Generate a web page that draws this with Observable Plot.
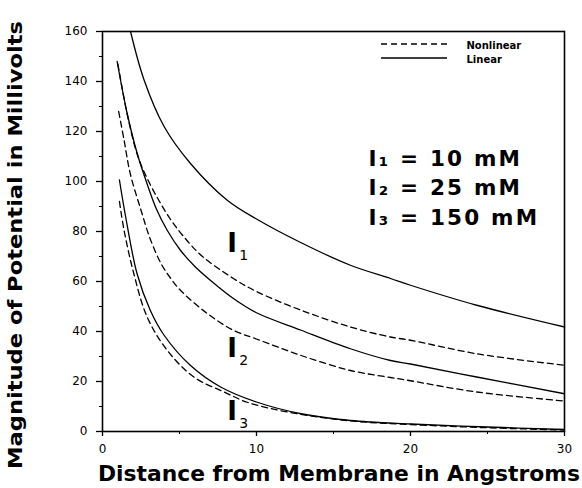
<!DOCTYPE html>
<html><head><meta charset="utf-8">
<script src="https://cdn.jsdelivr.net/npm/d3@7"></script>
<script src="https://cdn.jsdelivr.net/npm/@observablehq/plot@0.6"></script>
<style>body{margin:0;background:#fff} svg{display:block}</style>
</head><body><div id="chart"></div>
<script>
// Linear solution, I1 = 10 mM
const xLin1 = [1.82, 2.7, 4.0, 5.7, 8.1, 10, 12.9, 16.1, 18.7, 20, 24.3, 30];
const yLin1 = [160, 140.6, 122, 107.3, 92.5, 85, 75.5, 66.5, 61.2, 58.5, 50.5, 41.8];
// Nonlinear solution, I1
const xNon1 = [1.0, 1.6, 2.3, 3.0, 3.7, 4.4, 5.2, 6.4, 8.5, 10, 12.9, 16.1, 18.7, 20, 24.3, 30];
const yNon1 = [147, 127, 110, 100, 92, 85, 78.5, 70.5, 61.2, 56, 48.5, 41.8, 37.8, 36.5, 31.1, 26.5];
// Linear solution, I2 = 25 mM
const xLin2 = [0.95, 1.6, 2.25, 2.9, 3.5, 4.2, 5.06, 6, 7, 8.5, 10, 12.9, 16.1, 18.7, 20, 24.3, 30];
const yLin2 = [148, 127.3, 111.3, 99, 89, 80.5, 72.5, 66, 60.5, 53.2, 47.5, 40.5, 33.1, 28.4, 27, 21.8, 15.1];
// Nonlinear solution, I2
const xNon2 = [1.05, 1.4, 1.8, 2.5, 3.1, 3.8, 4.4, 5.06, 6.8, 8.5, 10, 12.9, 16.1, 18.7, 20, 24.3, 30];
const yNon2 = [128, 116.6, 103.2, 88.5, 77, 67.2, 61.5, 56.5, 47.2, 40.5, 37, 30.4, 24.4, 21.6, 20.3, 15.8, 12.2];
// Linear solution, I3 = 150 mM
const xLin3 = [1.1, 1.5, 2.25, 3.1, 4, 5.7, 7.7, 10, 12.9, 16.1, 20, 25, 30];
const yLin3 = [100.6, 86, 63, 48.5, 38.5, 26.5, 17.7, 11.8, 7.1, 4.4, 3, 1.8, 0.8];
// Nonlinear solution, I3
const xNon3 = [1.1, 1.4, 2.03, 2.9, 4.2, 5.93, 7.9, 9.4, 12, 16, 20, 25, 30];
const yNon3 = [92, 80.5, 63.2, 45.8, 32.5, 21.8, 15.8, 11.7, 7.8, 4.3, 2.8, 1.5, 0.6];

const xTicksMajor = [0, 10, 20, 30];
const xTicksMinor = [5, 15, 25];
const yTicksMajor = [0, 20, 40, 60, 80, 100, 120, 140, 160];
const yTicksMinor = [10, 30, 50, 70, 90, 110, 130, 150];

const curveLabelText = ["I", "I", "I"];
const curveLabelSub = ["1", "2", "3"];
const curveLabelX = [8.1, 8.1, 8.1];
const curveLabelY = [75, 33, 8];

const concLines = ["I₁ = 10 mM", "I₂ = 25 mM", "I₃ = 150 mM"];
const legendLabels = ["Nonlinear", "Linear"];
const xTitle = "Distance from Membrane in Angstroms";
const yTitle = "Magnitude of Potential in Millivolts";

function rows(xs, ys, curve, type) { return xs.map((x, i) => ({x, y: ys[i], curve, type})); }
const data = [
  ...rows(xLin1, yLin1, "I1", "Linear"),
  ...rows(xNon1, yNon1, "I1", "Nonlinear"),
  ...rows(xLin2, yLin2, "I2", "Linear"),
  ...rows(xNon2, yNon2, "I2", "Nonlinear"),
  ...rows(xLin3, yLin3, "I3", "Linear"),
  ...rows(xNon3, yNon3, "I3", "Nonlinear")
];
const linData = data.filter(d => d.type === "Linear");
const nonData = data.filter(d => d.type === "Nonlinear");

const W = 582, H = 488, ML = 102, MR = 18, MT = 31, MB = 57;
const idx = d3.range(3);

const chart = Plot.plot({
  width: W, height: H,
  marginLeft: ML, marginRight: MR, marginTop: MT, marginBottom: MB,
  x: {domain: [0, 30]},
  y: {domain: [0, 160]},
  style: {fontFamily: "DejaVu Sans", fontSize: "12px", color: "black", background: "white"},
  marks: [
    Plot.axisX({ticks: xTicksMajor, tickSize: 5, tickPadding: 8, label: null, strokeWidth: 1.3}),
    Plot.axisX({ticks: xTicksMinor, tickSize: 3, tickFormat: () => "", label: null}),
    Plot.axisY({ticks: yTicksMajor, tickSize: 6, tickPadding: 9, label: null, strokeWidth: 1.3}),
    Plot.axisY({ticks: yTicksMinor, tickSize: 3, tickFormat: () => "", label: null}),
    Plot.line(linData, {x: "x", y: "y", z: "curve", curve: "catmull-rom", stroke: "black", strokeWidth: 1.3}),
    Plot.line(nonData, {x: "x", y: "y", z: "curve", curve: "catmull-rom", stroke: "black", strokeWidth: 1.3, strokeDasharray: "6,4"}),
    Plot.text(idx, {x: i => curveLabelX[i], y: i => curveLabelY[i], text: i => curveLabelText[i], fontSize: 26, fontWeight: "bold", textAnchor: "start"}),
    Plot.text(idx, {x: i => curveLabelX[i], y: i => curveLabelY[i], text: i => curveLabelSub[i], fontSize: 14, textAnchor: "start", dx: 12, dy: 12}),
    Plot.text([concLines.join("\n")], {frameAnchor: "top-left", dx: 266, dy: 113, lineAnchor: "top", textAnchor: "start", fontSize: 21.5, fontWeight: "bold", lineHeight: 1.38}),
    Plot.text([legendLabels.join("\n")], {frameAnchor: "top-left", dx: 364, dy: 20, lineAnchor: "middle", textAnchor: "start", fontSize: 10, fontWeight: "bold", lineHeight: 1.4}),
    Plot.frame({stroke: "black", strokeWidth: 1.6})
  ]
});

const svg = d3.select(chart);
// widen the concentration block letter spacing
svg.selectAll("text").filter(function() { return this.textContent.includes("mM"); })
  .attr("letter-spacing", "2.2");
// legend sample lines
const lg = svg.append("g").attr("stroke", "black").attr("stroke-width", 1.3);
lg.append("line").attr("x1", 381).attr("x2", 447).attr("y1", MT + 13).attr("y2", MT + 13).attr("stroke-dasharray", "6,4");
lg.append("line").attr("x1", 381).attr("x2", 447).attr("y1", MT + 27).attr("y2", MT + 27);
// axis titles
svg.append("text").text(xTitle)
  .attr("x", 339).attr("y", 481).attr("text-anchor", "middle")
  .attr("font-family", "DejaVu Sans").attr("font-weight", "bold").attr("font-size", 21)
  .attr("textLength", 482).attr("lengthAdjust", "spacingAndGlyphs").attr("fill", "black");
svg.append("text").text(yTitle)
  .attr("transform", "translate(16,245) rotate(-90)").attr("text-anchor", "middle")
  .attr("dominant-baseline", "middle")
  .attr("font-family", "DejaVu Sans").attr("font-weight", "bold").attr("font-size", 19)
  .attr("textLength", 448).attr("lengthAdjust", "spacingAndGlyphs").attr("fill", "black");

document.getElementById("chart").appendChild(chart);
</script>
</body></html>
